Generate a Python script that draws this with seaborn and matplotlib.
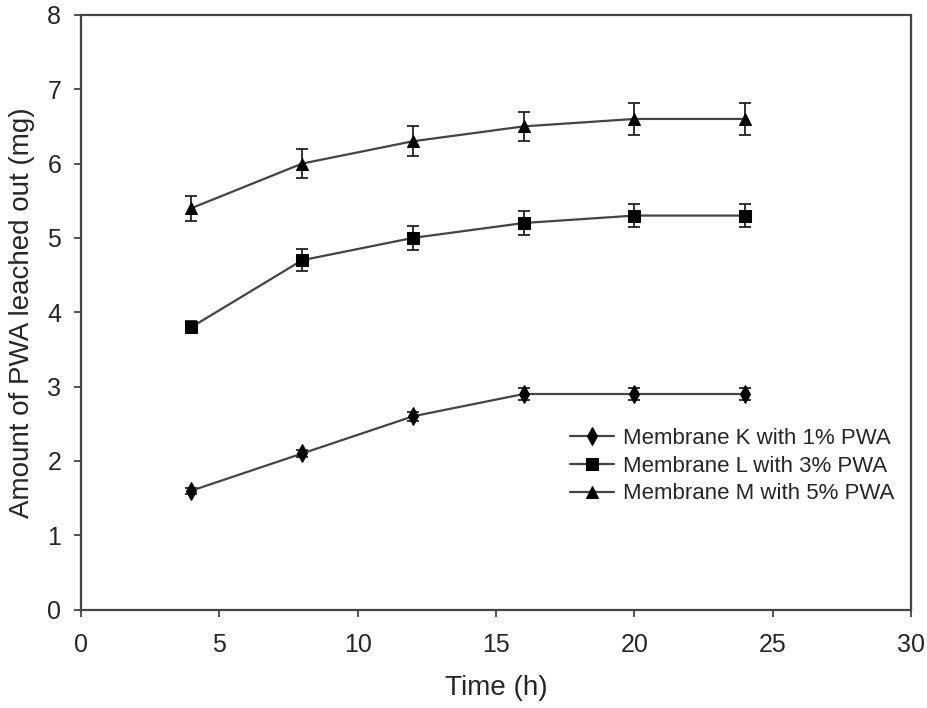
import pandas as pd
import matplotlib.pyplot as plt
import seaborn as sns

# Dados
tempo = [4, 8, 12, 16, 20, 24]
membrana_k = [1.6, 2.1, 2.6, 2.9, 2.9, 2.9]
membrana_l = [3.8, 4.7, 5.0, 5.2, 5.3, 5.3]
membrana_m = [5.4, 6.0, 6.3, 6.5, 6.6, 6.6]
erro_k = [0.04, 0.05, 0.06, 0.08, 0.08, 0.08]
erro_l = [0.08, 0.15, 0.16, 0.16, 0.16, 0.16]
erro_m = [0.17, 0.19, 0.2, 0.2, 0.21, 0.21]
rotulos = ["Membrane K with 1% PWA", "Membrane L with 3% PWA", "Membrane M with 5% PWA"]
marcadores = ["d", "s", "^"]

df = pd.concat([
    pd.DataFrame({"tempo": tempo, "valor": v, "erro": e, "serie": r})
    for v, e, r in zip([membrana_k, membrana_l, membrana_m], [erro_k, erro_l, erro_m], rotulos)
])

sns.set_style("white")
plt.rcParams["font.family"] = ["Liberation Sans", "DejaVu Sans"]

fig, ax = plt.subplots(figsize=(9.28, 7.08), dpi=100)

for r in rotulos:
    d = df[df["serie"] == r]
    ax.errorbar(d["tempo"], d["valor"], yerr=d["erro"], fmt="none",
                ecolor="#222222", elinewidth=1.3, capsize=4, capthick=1.3, zorder=2)

sns.lineplot(data=df, x="tempo", y="valor", hue="serie", style="serie",
             markers=dict(zip(rotulos, marcadores)), dashes=False,
             palette=["#444444"] * 3, linewidth=1.6, markersize=9,
             markerfacecolor="black", markeredgecolor="black", ax=ax, zorder=3)

ax.set_xlim(0, 30)
ax.set_ylim(0, 8)
ax.set_xticks(range(0, 31, 5))
ax.set_yticks(range(0, 9))
ax.tick_params(axis="both", labelsize=18, direction="out", length=5, width=1.3,
               color="#444444", bottom=True, left=True)
ax.tick_params(axis="x", pad=12)
ax.tick_params(axis="y", pad=9)
for s in ax.spines.values():
    s.set_color("#444444")
    s.set_linewidth(1.6)
ax.set_xlabel("Time (h)", fontsize=20, labelpad=13)
ax.set_ylabel("Amount of PWA leached out (mg)", fontsize=20, labelpad=9)

ax.legend(loc="upper left", bbox_to_anchor=(0.578, 0.32), frameon=False,
          fontsize=16, handlelength=2.0, handletextpad=0.4, labelspacing=0.3,
          borderaxespad=0)

plt.subplots_adjust(left=0.087, right=0.982, top=0.979, bottom=0.139)
plt.savefig("out.png", dpi=100)
